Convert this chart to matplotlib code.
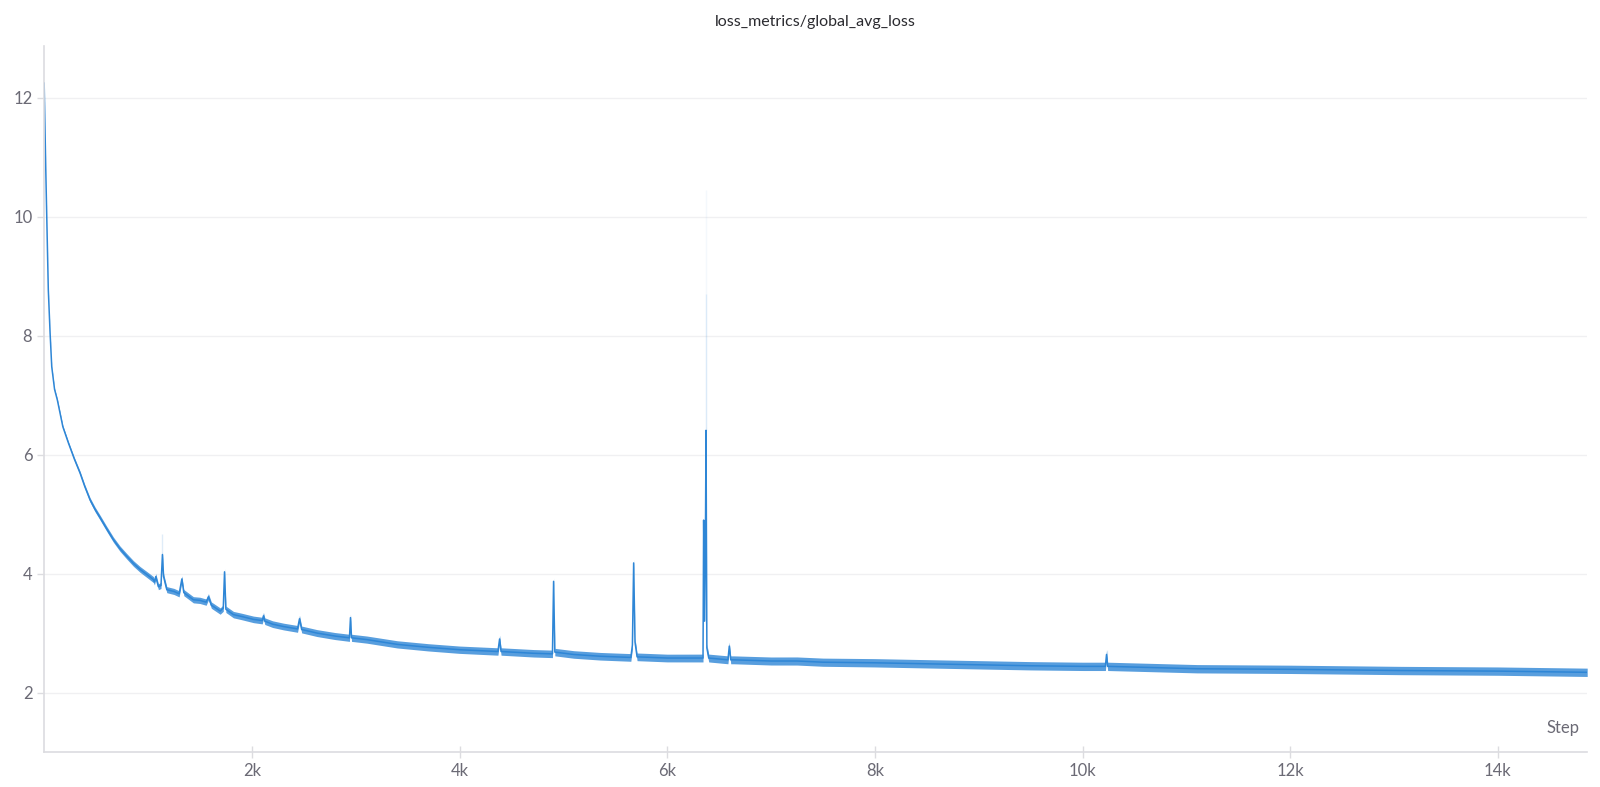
import numpy as np
import matplotlib
matplotlib.use("Agg")
import matplotlib.pyplot as plt
from matplotlib.ticker import FuncFormatter

# values (step, loss at centre of noise band)
steps = [0, 15, 25, 40, 57, 73, 100, 127, 180, 233, 290, 346, 390, 442, 490, 539, 600,
         667, 730, 796, 860, 924, 1000, 1052, 1062, 1075, 1100, 1125, 1139, 1150, 1181,
         1250, 1300, 1326, 1345, 1437, 1500, 1560, 1582, 1610, 1695, 1725, 1737, 1750,
         1823, 1900, 2016, 2100, 2112, 2125, 2200, 2305, 2440, 2459, 2480, 2627, 2800,
         2940, 2950, 2960, 3108, 3400, 3700, 4000, 4370, 4386, 4400, 4713, 4895, 4906,
         4918, 5100, 5355, 5650, 5665, 5677, 5690, 5710, 6000, 6345, 6351, 6360, 6368,
         6374, 6382, 6400, 6585, 6598, 6612, 6640, 7000, 7251, 7500, 8000, 8888, 9500,
         10000, 10220, 10231, 10242, 11104, 12000, 13063, 14000, 14860]
loss = [12.25, 10.84, 10.0, 8.77, 8.05, 7.48, 7.10, 6.92, 6.47, 6.20, 5.93, 5.69, 5.47,
        5.24, 5.08, 4.94, 4.76, 4.57, 4.42, 4.29, 4.17, 4.07, 3.97, 3.90, 3.86, 3.95,
        3.78, 3.80, 4.32, 3.95, 3.73, 3.70, 3.66, 3.91, 3.68, 3.56, 3.55, 3.52, 3.61,
        3.47, 3.37, 3.42, 4.03, 3.40, 3.31, 3.28, 3.23, 3.21, 3.29, 3.20, 3.15, 3.11,
        3.07, 3.24, 3.06, 3.00, 2.95, 2.92, 3.26, 2.92, 2.89, 2.81, 2.76, 2.72, 2.69,
        2.90, 2.69, 2.66, 2.65, 3.87, 2.68, 2.64, 2.61, 2.59, 2.80, 4.18, 2.85, 2.60,
        2.58, 2.58, 4.90, 3.20, 4.50, 6.41, 2.75, 2.58, 2.55, 2.78, 2.55, 2.55, 2.53,
        2.53, 2.51, 2.50, 2.47, 2.45, 2.44, 2.44, 2.64, 2.44, 2.40, 2.39, 2.37, 2.36,
        2.34]
# half width of the noisy band
spread_steps = [0, 150, 500, 1000, 2000, 3000, 6000, 8000, 14860]
spread = [0.01, 0.02, 0.04, 0.05, 0.055, 0.06, 0.065, 0.07, 0.07]

# faint max-envelope traces
faint_steps = [1139, 6374, 6374, 10231]
faint_lo = [4.32, 6.41, 6.41, 2.64]
faint_hi = [4.66, 8.70, 10.45, 2.72]
faint_alpha = [0.15, 0.12, 0.05, 0.12]

blue = "#2e86d6"
grey = "#6b6a75"

plt.rcParams["font.family"] = ["Lato", "DejaVu Sans"]
fig = plt.figure(figsize=(16, 7.87), dpi=100)
ax = fig.add_axes([0.0276, 0.0445, 0.9644, 0.8975])

sp = np.interp(steps, spread_steps, spread)
lo = np.array(loss) - sp
hi = np.array(loss) + sp
ax.fill_between(steps, lo, hi, color=blue, alpha=0.8, lw=0)
ax.plot(steps, loss, color=blue, lw=1.1)
for s, a, b, al in zip(faint_steps, faint_lo, faint_hi, faint_alpha):
    ax.vlines(s, a, b, color=blue, alpha=al, lw=1)

ax.set_xlim(0, 14860)
ax.set_ylim(1.0, 12.88)
ax.set_yticks([2, 4, 6, 8, 10, 12])
ax.set_xticks([2000, 4000, 6000, 8000, 10000, 12000, 14000])
ax.xaxis.set_major_formatter(FuncFormatter(lambda v, p: "%dk" % (v / 1000)))
ax.grid(axis="y", color="#f0f0f2", lw=1)
ax.set_axisbelow(True)
for side in ["top", "right"]:
    ax.spines[side].set_visible(False)
for side in ["left", "bottom"]:
    ax.spines[side].set_color("#dcdce0")
    ax.spines[side].set_linewidth(1.2)
ax.tick_params(axis="both", colors="#dcdce0", labelcolor=grey, labelsize=12,
               length=5, width=1)
ax.tick_params(axis="x", direction="inout", length=8, pad=4)

ax.set_title("loss_metrics/global_avg_loss", fontsize=11.5, color="#2b2b30", pad=14)
ax.text(0.995, 0.022, "Step", transform=ax.transAxes, ha="right", va="bottom",
        fontsize=12, color=grey)

fig.savefig("out.png", dpi=100)
